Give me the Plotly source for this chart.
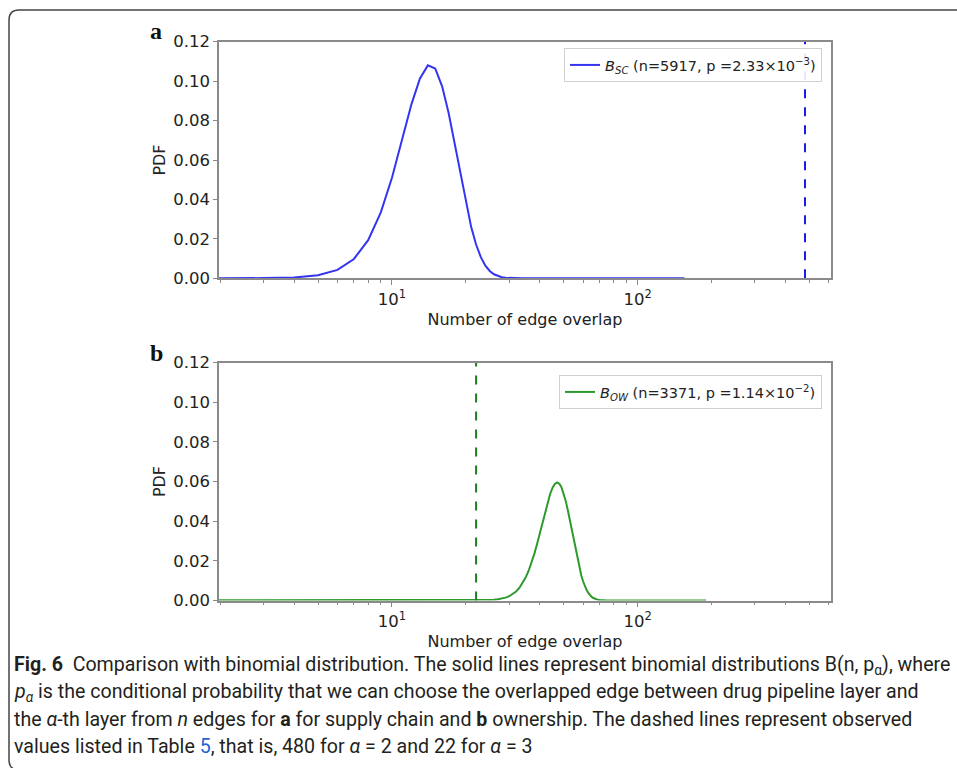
import plotly.graph_objects as go

# ---------------- data ----------------
# Panel a: binomial B_SC
sc_x = list(range(1, 36)) + [40, 60, 100, 155]
sc_y = [0.000001, 0.000014, 0.000098, 0.000449, 0.00155, 0.00427, 0.00981,
        0.01932, 0.0333, 0.05103, 0.07037, 0.08822, 0.10138, 0.1080, 0.1064,
        0.09738, 0.08393, 0.06808, 0.05216, 0.03786, 0.0261, 0.01714, 0.01075,
        0.00644, 0.0037, 0.00204, 0.00108, 0.00055, 0.00027, 0.00013, 0.00006,
        0.00003, 0.00001, 0.0, 0.0,
        0.0, 0.0, 0.0, 0.0]
sc_observed = 480

# Panel b: binomial B_OW
ow_x = [1, 5, 10, 15, 20, 22, 24, 25, 26] + list(range(27, 73)) + [75, 80, 100, 150, 190]
ow_y = [0.0, 0.0, 0.0, 0.0, 0.00002, 0.00005, 0.00014, 0.00024, 0.00038,
        0.00060, 0.00095, 0.00145, 0.00217, 0.00318, 0.00455, 0.00635, 0.00866,
        0.01154, 0.01500, 0.01904, 0.02364, 0.02869, 0.03403, 0.03944, 0.04467,
        0.04948, 0.05360, 0.05676, 0.05877, 0.05950, 0.05890, 0.05705, 0.05405,
        0.05009, 0.04541, 0.04027, 0.03495, 0.02970, 0.02470, 0.02011, 0.01604,
        0.01252, 0.00957, 0.00716, 0.00525, 0.00377, 0.00265, 0.00182, 0.00123,
        0.00081, 0.00052, 0.00033, 0.00020, 0.00012, 0.00007,
        0.0, 0.0, 0.0, 0.0, 0.0]
ow_observed = 22

y_range = [0, 0.12]
y_ticks = [0.0, 0.02, 0.04, 0.06, 0.08, 0.10, 0.12]
x_major = [10, 100]
x_major_text = ["10<sup>1</sup>", "10<sup>2</sup>"]
x_minor = [2, 3, 4, 5, 6, 7, 8, 9, 20, 30, 40, 50, 60, 70, 80, 90, 200, 300, 400, 500, 600]

sc_label = "<i>B<sub>SC</sub></i> (n=5917, p =2.33×10<sup>−3</sup>)"
ow_label = "<i>B<sub>OW</sub></i> (n=3371, p =1.14×10<sup>−2</sup>)"

caption_lines = [
    "<b>Fig. 6</b>  Comparison with binomial distribution. The solid lines represent binomial distributions B(n, p<sub>α</sub>), where",
    "<i>p<sub>α</sub></i> is the conditional probability that we can choose the overlapped edge between drug pipeline layer and",
    "the <i>α</i>-th layer from <i>n</i> edges for <b>a</b> for supply chain and <b>b</b> ownership. The dashed lines represent observed",
    "values listed in Table <span style='color:#2563d0'>5</span>, that is, 480 for <i>α</i> = 2 and 22 for <i>α</i> = 3",
]

# ---------------- layout helpers ----------------
W, H = 957, 768
def px(x):
    return x / W
def py(y):
    return 1 - y / H

BLUE = "#3434f2"
BLUE_D = "#1c1ce6"
GREEN = "#2e9a2e"
GREEN_D = "#1c7d1c"
AX = "#8a8a8a"
TICKFONT = dict(family="DejaVu Sans", size=16.5, color="#222")
TITLEFONT = dict(family="DejaVu Sans", size=16, color="#222")

fig = go.Figure()
fig.add_trace(go.Scatter(x=sc_x, y=sc_y, mode="lines", line=dict(color=BLUE, width=2),
                         name=sc_label, xaxis="x", yaxis="y", legend="legend"))
fig.add_trace(go.Scatter(x=[sc_observed, sc_observed], y=y_range, mode="lines",
                         line=dict(color=BLUE_D, width=2, dash="dash"), showlegend=False,
                         xaxis="x", yaxis="y"))
fig.add_trace(go.Scatter(x=ow_x, y=ow_y, mode="lines", line=dict(color=GREEN, width=2),
                         name=ow_label, xaxis="x2", yaxis="y2", legend="legend2"))
fig.add_trace(go.Scatter(x=[ow_observed, ow_observed], y=y_range, mode="lines",
                         line=dict(color=GREEN_D, width=2, dash="dash"), showlegend=False,
                         xaxis="x2", yaxis="y2"))

xdom = [px(219), px(831)]
xrange = [0.296, 2.787]

def xaxis(anchor):
    return dict(domain=xdom, anchor=anchor, type="log", range=xrange, automargin=False,
                tickvals=x_major, ticktext=x_major_text, ticks="outside", ticklen=5,
                tickcolor=AX, tickwidth=1.2, showline=True, mirror=True, linecolor=AX,
                linewidth=1.5, showgrid=False, zeroline=False, tickfont=TICKFONT,
                minor=dict(tickvals=x_minor, ticks="outside", ticklen=3, tickcolor=AX,
                           tickwidth=1, showgrid=False),
                title=dict(text="Number of edge overlap", font=TITLEFONT, standoff=6))

def yaxis(anchor, top, bottom):
    return dict(domain=[py(bottom), py(top)], anchor=anchor, range=y_range, automargin=False,
                tickvals=y_ticks, tickformat=".2f", ticks="outside", ticklen=4,
                tickcolor=AX, tickwidth=1.2, showline=True, mirror=True, linecolor=AX,
                linewidth=1.5, showgrid=False, zeroline=False, tickfont=TICKFONT,
                title=dict(text="PDF", font=TITLEFONT, standoff=4))

legend_common = dict(bgcolor="rgba(255,255,255,0.9)", bordercolor="#d0d0d0", borderwidth=1,
                     font=dict(family="DejaVu Sans", size=14.5, color="#222"),
                     xanchor="right", yanchor="top", x=px(822),
                     itemwidth=30, tracegroupgap=0)

annotations = [
    dict(text="<b>a</b>", x=px(156), y=py(31), xref="paper", yref="paper", showarrow=False,
         xanchor="center", yanchor="middle",
         font=dict(family="Liberation Serif", size=24, color="#111")),
    dict(text="<b>b</b>", x=px(156), y=py(353), xref="paper", yref="paper", showarrow=False,
         xanchor="center", yanchor="middle",
         font=dict(family="Liberation Serif", size=24, color="#111")),
]
for i, line in enumerate(caption_lines):
    annotations.append(dict(text=line, x=px(12), y=py(665 + 27 * i), xref="paper", yref="paper",
                            xanchor="left", yanchor="middle", showarrow=False, align="left",
                            font=dict(family="Roboto, Open Sans", size=19.6, color="#231f20")))

# rounded frame around the figure panel
xl, xr = px(9), px(19)
yt, yt2 = py(10), py(20)
yb, yb2 = py(770), py(760)
frame = f"M 1.02,{yt} L {xr},{yt} Q {xl},{yt} {xl},{yt2} L {xl},{yb2} Q {xl},{yb} {xr},{yb} L 1.02,{yb}"

fig.update_layout(
    width=W, height=H, margin=dict(l=0, r=0, t=0, b=0, pad=0, autoexpand=False),
    paper_bgcolor="white", plot_bgcolor="white",
    xaxis=xaxis("y"), yaxis=yaxis("x", 41.7, 278.3),
    xaxis2=xaxis("y2"), yaxis2=yaxis("x2", 362.5, 600.5),
    legend=dict(**legend_common, y=py(48)),
    legend2=dict(**legend_common, y=py(375)),
    annotations=annotations,
    shapes=[dict(type="path", path=frame, xref="paper", yref="paper",
                 line=dict(color="#444", width=1.5))],
)

fig.write_html("out.html")
